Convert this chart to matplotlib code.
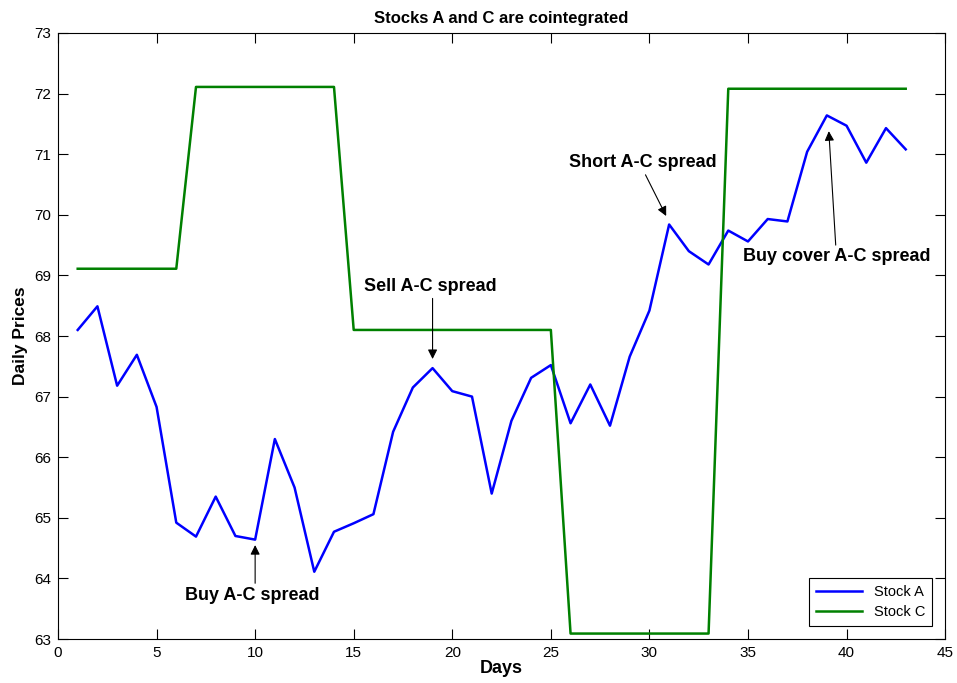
import matplotlib
matplotlib.use('Agg')
import matplotlib.pyplot as plt

days = list(range(1, 44))
stock_a = [68.10, 68.49, 67.18, 67.69, 66.83, 64.92, 64.69, 65.35, 64.70, 64.64,
           66.30, 65.50, 64.11, 64.77, 64.91, 65.06, 66.42, 67.15, 67.47, 67.09,
           67.00, 65.40, 66.60, 67.31, 67.52, 66.56, 67.20, 66.52, 67.66, 68.42,
           69.84, 69.40, 69.18, 69.74, 69.56, 69.93, 69.89, 71.04, 71.64, 71.47,
           70.86, 71.43, 71.08]
stock_c = [69.11] * 6 + [72.11] * 8 + [68.10] * 11 + [63.09] * 8 + [72.08] * 10

notes = ["Buy A-C spread", "Sell A-C spread", "Short A-C spread", "Buy cover A-C spread"]
note_tips = [(10, 64.55), (19, 67.62), (30.85, 69.98), (39.1, 71.38)]
note_tails = [(10, 63.92), (19, 68.62), (29.8, 70.66), (39.45, 69.5)]
note_text = [(9.85, 63.72), (18.9, 68.82), (29.65, 70.86), (39.5, 69.32)]

plt.rcParams['font.family'] = ['Liberation Sans', 'DejaVu Sans']
fig = plt.figure(figsize=(9.57, 6.83), dpi=100)
ax = fig.add_axes([0.0606, 0.0644, 0.927, 0.8873])

ax.plot(days, stock_a, color=(0, 0, 1), lw=1.8, label='Stock A')
ax.plot(days, stock_c, color=(0, 0.5, 0), lw=1.8, label='Stock C')

for txt, tip, tail, pos in zip(notes, note_tips, note_tails, note_text):
    ax.annotate('', xy=tip, xytext=tail,
                arrowprops=dict(arrowstyle='-|>', color='black', lw=0.8,
                                mutation_scale=14, shrinkA=0, shrinkB=0))
    ax.text(pos[0], pos[1], txt, fontsize=13, fontweight='bold',
            ha='center', va='center')

ax.set_xlim(0, 45)
ax.set_ylim(63, 73)
ax.set_xticks(range(0, 46, 5))
ax.set_yticks(range(63, 74))
ax.tick_params(direction='in', top=True, right=True, labelsize=11, length=7, pad=5)
for s in ax.spines.values():
    s.set_linewidth(0.8)

ax.set_title('Stocks A and C are cointegrated', fontsize=12, fontweight='bold', pad=7)
ax.set_xlabel('Days', fontsize=13, fontweight='bold', labelpad=0)
ax.set_ylabel('Daily Prices', fontsize=12.5, fontweight='bold', labelpad=4)

leg = ax.legend(loc='lower right', fontsize=10.5, fancybox=False, framealpha=1,
                edgecolor='black', handlelength=3.2, borderpad=0.45,
                borderaxespad=0.9, labelspacing=0.45)
leg.get_frame().set_linewidth(0.8)

fig.savefig('out.png', dpi=100)
